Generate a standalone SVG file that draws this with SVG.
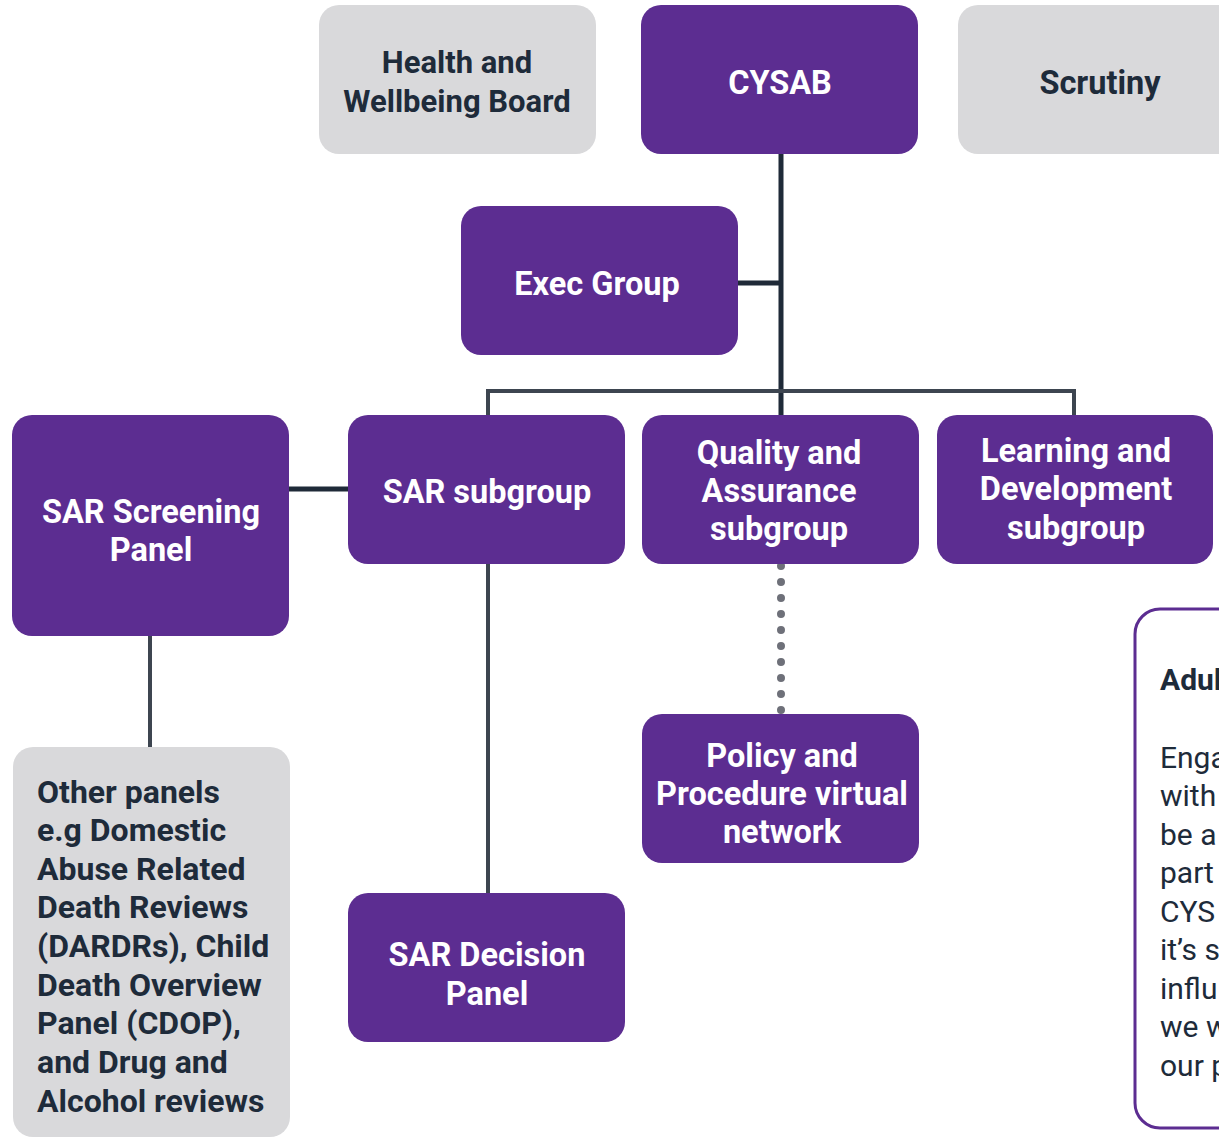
<svg xmlns="http://www.w3.org/2000/svg" width="1219" height="1138" viewBox="0 0 1219 1138">
<style>
.p{fill:#5c2d91}
.g{fill:#d9d9db}
.lw{font-family:Roboto,"Liberation Sans",sans-serif;font-weight:bold;font-size:32.5px;fill:#ffffff;text-anchor:middle}
.ld{font-family:Roboto,"Liberation Sans",sans-serif;font-weight:bold;font-size:31px;fill:#1e2b3a;text-anchor:middle}
.ls{font-size:32.5px}
.lo{font-family:Roboto,"Liberation Sans",sans-serif;font-weight:bold;font-size:32px;fill:#1e2b3a}
.lr{font-family:Roboto,"Liberation Sans",sans-serif;font-size:30px;fill:#1e2b3a}
.c{stroke:#1f2a38;stroke-width:5;fill:none}
.c2{stroke:#3d4550;stroke-width:4;fill:none}
</style>
<rect width="1219" height="1138" fill="#ffffff"/>
<g id="connectors">
<line class="c" x1="781" y1="154" x2="781" y2="415"/>
<line class="c" x1="738" y1="283" x2="781" y2="283"/>
<polyline class="c2" points="488,415 488,391 1074,391 1074,415"/>
<line class="c" x1="289" y1="489" x2="348" y2="489"/>
<line class="c2" x1="150" y1="636" x2="150" y2="747"/>
<line class="c2" x1="488" y1="564" x2="488" y2="893"/>
<line x1="781" y1="566" x2="781" y2="712" stroke="#6e7079" stroke-width="8" stroke-linecap="round" stroke-dasharray="0 16"/>
</g>
<g id="health">
<rect class="g" x="319" y="5" width="277" height="149" rx="20"/>
<text class="ld" x="457" y="73">Health and</text>
<text class="ld" x="457" y="112">Wellbeing Board</text>
</g>
<g id="cysab">
<rect class="p" x="641" y="5" width="277" height="149" rx="20"/>
<text class="lw" x="780" y="94">CYSAB</text>
</g>
<g id="scrutiny">
<rect class="g" x="958" y="5" width="290" height="149" rx="20"/>
<text class="ld ls" x="1100" y="94">Scrutiny</text>
</g>
<g id="exec">
<rect class="p" x="461" y="206" width="277" height="149" rx="20"/>
<text class="lw" x="597" y="295">Exec Group</text>
</g>
<g id="screening">
<rect class="p" x="12" y="415" width="277" height="221" rx="20"/>
<text class="lw" x="151" y="523">SAR Screening</text>
<text class="lw" x="151" y="561">Panel</text>
</g>
<g id="sarsub">
<rect class="p" x="348" y="415" width="277" height="149" rx="20"/>
<text class="lw" x="487" y="503">SAR subgroup</text>
</g>
<g id="quality">
<rect class="p" x="642" y="415" width="277" height="149" rx="20"/>
<text class="lw" x="779" y="464">Quality and</text>
<text class="lw" x="779" y="502">Assurance</text>
<text class="lw" x="779" y="540">subgroup</text>
</g>
<g id="learning">
<rect class="p" x="937" y="415" width="276" height="149" rx="20"/>
<text class="lw" x="1076" y="462">Learning and</text>
<text class="lw" x="1076" y="500">Development</text>
<text class="lw" x="1076" y="539">subgroup</text>
</g>
<g id="policy">
<rect class="p" x="642" y="714" width="277" height="149" rx="20"/>
<text class="lw" x="782" y="767">Policy and</text>
<text class="lw" x="782" y="805">Procedure virtual</text>
<text class="lw" x="782" y="843">network</text>
</g>
<g id="decision">
<rect class="p" x="348" y="893" width="277" height="149" rx="20"/>
<text class="lw" x="487" y="966">SAR Decision</text>
<text class="lw" x="487" y="1005">Panel</text>
</g>
<g id="other">
<rect class="g" x="13" y="747" width="277" height="390" rx="20"/>
<text class="lo" x="37" y="803">Other panels</text>
<text class="lo" x="37" y="841">e.g Domestic</text>
<text class="lo" x="37" y="880">Abuse Related</text>
<text class="lo" x="37" y="918">Death Reviews</text>
<text class="lo" x="37" y="957">(DARDRs), Child</text>
<text class="lo" x="37" y="996">Death Overview</text>
<text class="lo" x="37" y="1034">Panel (CDOP),</text>
<text class="lo" x="37" y="1073">and Drug and</text>
<text class="lo" x="37" y="1112">Alcohol reviews</text>
</g>
<g id="adult">
<rect x="1135" y="609" width="200" height="519" rx="25" fill="#ffffff" stroke="#5c2d91" stroke-width="3"/>
<text class="lo" x="1160" y="690" style="font-size:30px">Adul</text>
<text class="lr" x="1160" y="768">Enga</text>
<text class="lr" x="1160" y="806">with</text>
<text class="lr" x="1160" y="845">be a</text>
<text class="lr" x="1160" y="883">part</text>
<text class="lr" x="1160" y="922">CYS</text>
<text class="lr" x="1160" y="960">it’s s</text>
<text class="lr" x="1160" y="999">influ</text>
<text class="lr" x="1160" y="1037">we w</text>
<text class="lr" x="1160" y="1076">our p</text>
</g>
</svg>
